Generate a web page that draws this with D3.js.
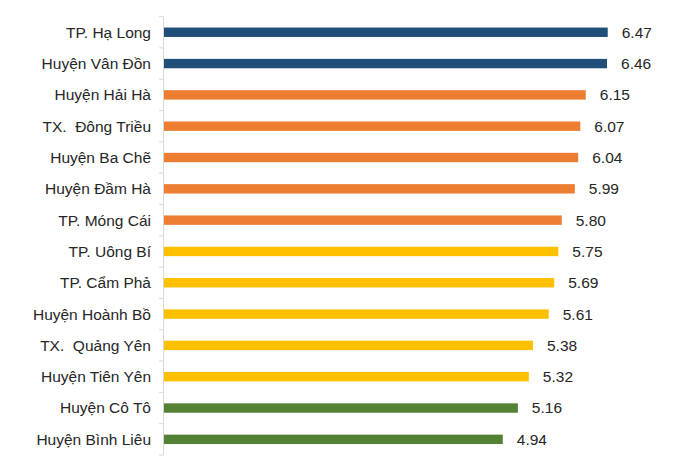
<!DOCTYPE html>
<html><head><meta charset="utf-8">
<script src="https://cdn.jsdelivr.net/npm/d3@7"></script>
<style>body{margin:0;background:#fff}svg{display:block}</style>
</head><body>
<svg id="c" width="700" height="472"></svg>
<script>
const categories = ["TP. Hạ Long","Huyện Vân Đồn","Huyện Hải Hà","TX.  Đông Triều","Huyện Ba Chẽ","Huyện Đầm Hà","TP. Móng Cái","TP. Uông Bí","TP. Cẩm Phả","Huyện Hoành Bồ","TX.  Quảng Yên","Huyện Tiên Yên","Huyện Cô Tô","Huyện Bình Liêu"];
const values = [6.47,6.46,6.15,6.07,6.04,5.99,5.80,5.75,5.69,5.61,5.38,5.32,5.16,4.94];
const groups = ["top","top","high","high","high","high","high","mid","mid","mid","mid","mid","low","low"];
const groupColors = {top:"#1F4E79", high:"#ED7D31", mid:"#FFC000", low:"#548235"};

const svg = d3.select("#c");
const x0 = 164, plotTop = 16.6, plotBottom = 455;
const x = d3.scaleLinear().domain([0,7]).range([x0, x0 + 7*68.58]);
const y = d3.scaleBand().domain(categories).range([plotTop,plotBottom]).paddingInner(0.7).paddingOuter(0.35);

svg.append("line").attr("x1",x0-0.5).attr("x2",x0-0.5).attr("y1",plotTop).attr("y2",plotBottom)
  .attr("stroke","#d9d9d9").attr("stroke-width",1);
d3.range(categories.length+1).forEach(i=>{
  const yy = plotTop + i*(plotBottom-plotTop)/categories.length;
  svg.append("line").attr("x1",x0-5).attr("x2",x0-0.5).attr("y1",yy).attr("y2",yy)
    .attr("stroke","#d9d9d9").attr("stroke-width",1);
});

const yc = d => y(d) + y.bandwidth()/2;

svg.selectAll("rect.bar").data(categories).join("rect")
  .attr("class","bar")
  .attr("x",x0)
  .attr("y",d=>y(d))
  .attr("width",(d,i)=>x(values[i])-x0)
  .attr("height",y.bandwidth())
  .attr("fill",(d,i)=>groupColors[groups[i]]);

svg.selectAll("text.cat").data(categories).join("text")
  .attr("class","cat")
  .attr("x",151).attr("y",d=>yc(d)).attr("dy","0.35em")
  .attr("text-anchor","end")
  .attr("font-family","'Liberation Sans', Arial, sans-serif").attr("font-size",15.5)
  .attr("fill","#262626")
  .style("white-space","pre")
  .text(d=>d);

svg.selectAll("text.val").data(categories).join("text")
  .attr("class","val")
  .attr("x",(d,i)=>x(values[i])+14).attr("y",d=>yc(d)).attr("dy","0.35em")
  .attr("font-family","'Liberation Sans', Arial, sans-serif").attr("font-size",15.5)
  .attr("fill","#262626")
  .text((d,i)=>values[i].toFixed(2));
</script>
</body></html>
